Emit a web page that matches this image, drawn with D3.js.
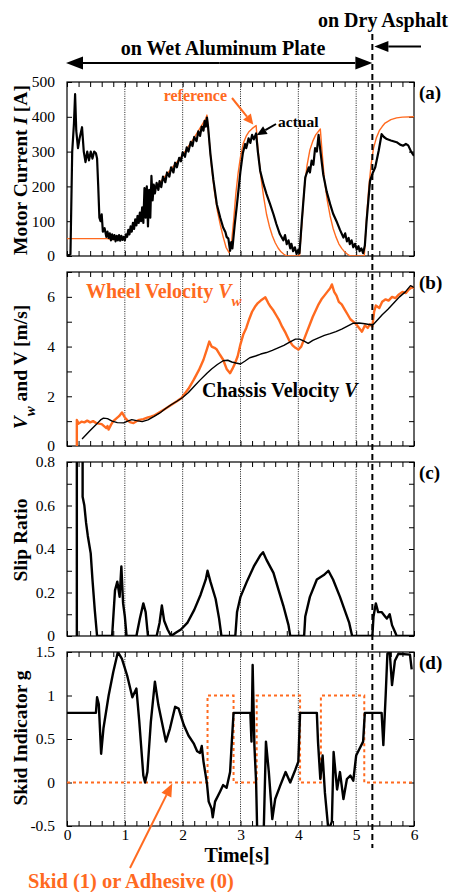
<!DOCTYPE html>
<html>
<head>
<meta charset="utf-8">
<script src="https://cdn.jsdelivr.net/npm/d3@7"></script>
<style>
  body { margin: 0; background: #fff; }
  svg, svg text { font-family: "Liberation Serif", "Times New Roman", "DejaVu Serif", serif; }
</style>
</head>
<body>
<svg id="chart" width="451" height="892" font-family="Liberation Serif, DejaVu Serif, serif"></svg>
<script>
// ---- data -------------------------------------------------------------
const timeMajor = [0, 1, 2, 3, 4, 5, 6];
const gridTimes = [1, 2, 3, 4, 5];
const surfaceChangeTime = 5.28;

const currentTicks = [0, 100, 200, 300, 400, 500];
const currentLabels = ["0", "100", "200", "300", "400", "500"];
const velocityTicks = [0, 1, 2, 3, 4, 5, 6, 7];
const velocityLabels = ["0", "", "2", "", "4", "", "6", ""];
const slipTicks = [0, 0.1, 0.2, 0.3, 0.4, 0.5, 0.6, 0.7, 0.8];
const slipLabels = ["0", "", "0.2", "", "0.4", "", "0.6", "", "0.8"];
const skidTicks = [-0.5, 0, 0.5, 1, 1.5];
const skidLabels = ["-0.5", "0", "0.5", "1", "1.5"];

// (a) motor current [A]: reference and measured
const currentReference = [
  [0, 50], [0.7, 50], [0.75, 48], [0.85, 47], [1.0, 50], [1.2, 100], [1.5, 190], [1.8, 250],
  [2.0, 290], [2.2, 340], [2.4, 395], [2.42, 405], [2.46, 330], [2.5, 255], [2.55, 185],
  [2.6, 130], [2.65, 90], [2.7, 55], [2.75, 25], [2.8, 10], [2.84, 30], [2.88, 100],
  [2.92, 180], [2.96, 240], [3.0, 285], [3.05, 325], [3.1, 345], [3.15, 358], [3.2, 366],
  [3.27, 375], [3.3, 310], [3.35, 230], [3.4, 170], [3.45, 120], [3.5, 85], [3.55, 58],
  [3.6, 38], [3.65, 23], [3.7, 12], [3.75, 5], [3.8, 0], [4.02, 0], [4.06, 90], [4.1, 190],
  [4.15, 260], [4.2, 305], [4.25, 330], [4.3, 348], [4.38, 365], [4.41, 300], [4.45, 220],
  [4.5, 160], [4.55, 115], [4.6, 80], [4.65, 55], [4.7, 35], [4.75, 22], [4.8, 12],
  [4.85, 5], [4.9, 0], [5.14, 0], [5.18, 110], [5.22, 200], [5.26, 265], [5.3, 310],
  [5.35, 340], [5.4, 360], [5.45, 372], [5.5, 382], [5.6, 392], [5.7, 397], [5.8, 399],
  [6.0, 400]
];
const currentActual = [
  [0, 0], [0.06, 5], [0.09, 300], [0.12, 380], [0.14, 465], [0.16, 360], [0.19, 310],
  [0.22, 340], [0.26, 370], [0.29, 300], [0.32, 270], [0.35, 300], [0.38, 275], [0.41, 300],
  [0.44, 280], [0.47, 300], [0.5, 295], [0.52, 280], [0.54, 200], [0.56, 110], [0.58, 100],
  [0.6, 120], [0.62, 70], [0.65, 80], [0.68, 55], [0.7, 70], [0.72, 52], [0.74, 65],
  [0.76, 45], [0.78, 62], [0.8, 48], [0.82, 60], [0.84, 42], [0.86, 58], [0.88, 45],
  [0.9, 60], [0.92, 44], [0.94, 58], [0.96, 46], [0.98, 55], [1.0, 45], [1.02, 62],
  [1.04, 55], [1.06, 75], [1.08, 62], [1.1, 85], [1.12, 70], [1.14, 95], [1.16, 78],
  [1.18, 105], [1.2, 88], [1.22, 115], [1.24, 95], [1.26, 125], [1.28, 100], [1.3, 140],
  [1.32, 95], [1.34, 195], [1.36, 110], [1.38, 200], [1.4, 85], [1.42, 190], [1.44, 110],
  [1.46, 230], [1.48, 160], [1.5, 205], [1.52, 180], [1.55, 210], [1.58, 190], [1.6, 215],
  [1.63, 198], [1.66, 228], [1.7, 212], [1.73, 240], [1.77, 228], [1.8, 255], [1.84, 240],
  [1.87, 268], [1.9, 255], [1.94, 282], [1.97, 272], [2.0, 298], [2.04, 285], [2.07, 312],
  [2.1, 300], [2.14, 328], [2.17, 316], [2.2, 342], [2.24, 330], [2.27, 358], [2.3, 345],
  [2.33, 372], [2.36, 360], [2.38, 388], [2.4, 372], [2.42, 398], [2.44, 370], [2.48, 293],
  [2.53, 220], [2.59, 149], [2.65, 110], [2.7, 82], [2.74, 68], [2.76, 55], [2.79, 50],
  [2.82, 15], [2.84, 40], [2.86, 22], [2.9, 90], [2.94, 150], [3.0, 245], [3.04, 295],
  [3.08, 322], [3.1, 310], [3.14, 338], [3.17, 325], [3.2, 348], [3.23, 335], [3.27, 352],
  [3.3, 300], [3.34, 245], [3.4, 205], [3.45, 178], [3.51, 150], [3.57, 120], [3.62, 92],
  [3.68, 63], [3.74, 45], [3.77, 60], [3.8, 34], [3.83, 45], [3.86, 22], [3.88, 35],
  [3.91, 14], [3.94, 25], [3.97, 6], [4.0, 18], [4.02, 8], [4.06, 100], [4.12, 226],
  [4.18, 255], [4.2, 240], [4.23, 274], [4.26, 262], [4.29, 310], [4.32, 300], [4.35, 348],
  [4.39, 290], [4.43, 235], [4.49, 185], [4.55, 149], [4.6, 122], [4.66, 100], [4.72, 75],
  [4.78, 53], [4.81, 65], [4.84, 42], [4.87, 52], [4.89, 34], [4.92, 45], [4.95, 25],
  [4.98, 35], [5.01, 19], [5.04, 28], [5.06, 14], [5.09, 22], [5.12, 8], [5.15, 30],
  [5.18, 100], [5.24, 216], [5.29, 240], [5.33, 255], [5.39, 303], [5.44, 350], [5.48, 342],
  [5.53, 336], [5.6, 332], [5.7, 327], [5.76, 320], [5.81, 317], [5.86, 322], [5.9, 318],
  [5.95, 300], [6.0, 288]
];

// (b) wheel velocity Vw and chassis velocity V [m/s]
const wheelVelocity = [
  [0.17, 0], [0.17, 1.05], [0.2, 0.9], [0.25, 0.98], [0.3, 0.95], [0.35, 1.02], [0.4, 0.95],
  [0.45, 1.0], [0.5, 0.93], [0.55, 0.9], [0.6, 0.88], [0.64, 0.8], [0.68, 0.72], [0.7, 0.8],
  [0.72, 0.66], [0.76, 0.85], [0.8, 1.0], [0.85, 1.1], [0.9, 1.2], [0.95, 1.35], [1.0, 1.15],
  [1.04, 1.04], [1.1, 0.95], [1.15, 0.92], [1.2, 1.0], [1.25, 1.05], [1.32, 1.08],
  [1.4, 1.15], [1.45, 1.18], [1.5, 1.22], [1.6, 1.36], [1.7, 1.5], [1.8, 1.65], [1.9, 1.8],
  [1.98, 1.93], [2.1, 2.3], [2.19, 2.66], [2.28, 3.05], [2.36, 3.47], [2.42, 3.9],
  [2.46, 4.2], [2.5, 4.0], [2.55, 3.95], [2.59, 3.88], [2.65, 3.65], [2.7, 3.47], [2.76, 3.1],
  [2.82, 2.93], [2.86, 3.1], [2.9, 3.3], [2.95, 3.6], [3.0, 4.1], [3.05, 4.5], [3.1, 4.75],
  [3.15, 5.1], [3.2, 5.4], [3.25, 5.6], [3.3, 5.75], [3.35, 5.85], [3.43, 5.98], [3.48, 5.75],
  [3.52, 5.6], [3.57, 5.45], [3.62, 5.25], [3.67, 5.05], [3.72, 4.8], [3.78, 4.55],
  [3.84, 4.25], [3.9, 4.05], [3.95, 3.95], [4.0, 3.88], [4.05, 4.0], [4.1, 4.3], [4.15, 4.6],
  [4.2, 4.9], [4.25, 5.2], [4.3, 5.45], [4.35, 5.7], [4.4, 5.9], [4.45, 6.05], [4.5, 6.2],
  [4.55, 6.35], [4.58, 6.5], [4.62, 6.2], [4.66, 6.05], [4.7, 5.8], [4.75, 5.7], [4.8, 5.5],
  [4.85, 5.3], [4.9, 5.1], [4.95, 5.0], [5.0, 4.9], [5.05, 4.75], [5.1, 4.6], [5.15, 4.85],
  [5.2, 4.75], [5.24, 4.9], [5.28, 4.8], [5.31, 5.4], [5.34, 5.65], [5.4, 5.55], [5.45, 5.8],
  [5.51, 5.9], [5.56, 5.85], [5.62, 6.0], [5.68, 5.95], [5.74, 6.1], [5.8, 6.2], [5.86, 6.15],
  [5.91, 6.3], [5.97, 6.4], [6.0, 6.35]
];
const chassisVelocity = [
  [0.26, 0.28], [0.33, 0.45], [0.4, 0.62], [0.5, 0.85], [0.58, 1.05], [0.63, 1.12],
  [0.7, 1.1], [0.78, 1.0], [0.87, 0.94], [0.98, 0.93], [1.05, 1.0], [1.12, 1.06], [1.2, 1.02],
  [1.3, 0.98], [1.4, 1.05], [1.5, 1.18], [1.6, 1.32], [1.7, 1.5], [1.8, 1.66], [1.9, 1.8],
  [2.0, 1.95], [2.1, 2.15], [2.2, 2.4], [2.3, 2.65], [2.42, 2.93], [2.5, 3.1], [2.6, 3.28],
  [2.7, 3.43], [2.78, 3.45], [2.85, 3.38], [2.92, 3.34], [3.0, 3.3], [3.08, 3.42],
  [3.16, 3.55], [3.26, 3.62], [3.35, 3.7], [3.45, 3.76], [3.55, 3.85], [3.65, 3.95],
  [3.75, 4.05], [3.85, 4.18], [3.95, 4.3], [4.02, 4.3], [4.1, 4.22], [4.17, 4.13],
  [4.25, 4.25], [4.35, 4.35], [4.45, 4.45], [4.55, 4.52], [4.65, 4.6], [4.75, 4.7],
  [4.85, 4.82], [4.95, 4.94], [5.05, 4.95], [5.15, 4.92], [5.25, 4.88], [5.3, 4.9],
  [5.38, 5.1], [5.45, 5.28], [5.55, 5.5], [5.65, 5.75], [5.75, 6.0], [5.85, 6.2],
  [5.94, 6.45], [6.0, 6.38]
];

// (c) slip ratio
const slipRatio = [
  [0.17, 0], [0.17, 1.0], [0.27, 1.0], [0.27, 0.64], [0.3, 0.6], [0.33, 0.52], [0.36, 0.46],
  [0.41, 0.38], [0.44, 0.26], [0.48, 0.12], [0.52, 0], [0.78, 0], [0.83, 0.21], [0.87, 0.25],
  [0.91, 0.18], [0.94, 0.32], [0.97, 0.15], [1.0, 0.09], [1.03, 0], [1.2, 0], [1.26, 0.08],
  [1.32, 0.15], [1.36, 0.11], [1.4, 0], [1.55, 0], [1.6, 0.06], [1.64, 0.14], [1.68, 0.07],
  [1.74, 0.03], [1.8, 0], [1.88, 0.015], [1.97, 0.03], [2.08, 0.06], [2.2, 0.12],
  [2.31, 0.19], [2.4, 0.26], [2.43, 0.3], [2.48, 0.25], [2.57, 0.17], [2.63, 0.08],
  [2.67, 0], [2.91, 0], [2.94, 0.11], [3.0, 0.18], [3.11, 0.25], [3.23, 0.32], [3.34, 0.37],
  [3.39, 0.385], [3.45, 0.35], [3.57, 0.29], [3.66, 0.21], [3.74, 0.14], [3.83, 0.05],
  [3.86, 0], [4.1, 0], [4.12, 0.09], [4.2, 0.18], [4.32, 0.26], [4.44, 0.28], [4.52, 0.3],
  [4.6, 0.26], [4.72, 0.18], [4.8, 0.12], [4.88, 0.06], [4.93, 0], [5.28, 0], [5.3, 0.09],
  [5.34, 0.15], [5.38, 0.11], [5.44, 0.11], [5.5, 0.09], [5.53, 0.08], [5.58, 0.1],
  [5.62, 0.05], [5.67, 0.02], [5.7, 0], [6.0, 0]
];

// (d) skid indicator g and skid flag (1 = skid, 0 = adhesive)
const skidIndicator = [
  [0, 0.8], [0.5, 0.8], [0.52, 0.98], [0.55, 0.9], [0.59, 0.33], [0.63, 0.62], [0.72, 1.0],
  [0.8, 1.27], [0.88, 1.5], [0.95, 1.42], [1.04, 1.23], [1.13, 0.98], [1.2, 1.08],
  [1.25, 0.7], [1.32, 0.08], [1.35, 0.0], [1.39, 0.12], [1.45, 0.7], [1.52, 1.16],
  [1.58, 0.89], [1.71, 0.47], [1.78, 0.62], [1.87, 0.87], [1.93, 0.85], [2.02, 0.66],
  [2.1, 0.54], [2.19, 0.45], [2.25, 0.36], [2.3, 0.34], [2.33, 0.42], [2.36, 0.24],
  [2.42, -0.01], [2.45, -0.22], [2.5, -0.3], [2.52, -0.4], [2.56, -0.22], [2.65, -0.1],
  [2.7, -0.03], [2.76, -0.06], [2.82, 0.12], [2.85, 0.47], [2.88, 0.8], [3.17, 0.8],
  [3.19, 0.47], [3.21, 1.35], [3.24, 0.43], [3.27, 0.0], [3.29, -0.6], [3.4, -0.6],
  [3.44, 0.47], [3.49, 0.12], [3.55, -0.42], [3.6, -0.19], [3.69, -0.03], [3.78, 0.12],
  [3.86, 0.0], [3.95, 0.15], [4.0, 0.24], [4.03, 0.8], [4.32, 0.8], [4.34, 0.47],
  [4.38, 0.04], [4.42, 0.31], [4.46, -0.12], [4.52, -0.55], [4.58, -0.45], [4.61, 0.35],
  [4.67, -0.08], [4.72, 0.12], [4.78, -0.19], [4.84, 0.04], [4.9, 0.08], [4.95, 0.02],
  [5.0, 0.31], [5.06, 0.39], [5.12, 0.47], [5.15, 0.8], [5.44, 0.8], [5.47, 0.43],
  [5.51, 1.0], [5.54, 1.48], [5.58, 1.5], [5.62, 1.12], [5.67, 1.4], [5.73, 1.48],
  [5.93, 1.47], [5.96, 1.3]
];
const skidFlagTimes = [0, 2.43, 2.88, 3.28, 4.03, 4.39, 5.14, 6.0];
const skidFlagValues = [0, 1, 0, 1, 0, 1, 0, 0];

// ---- layout -----------------------------------------------------------
const ORANGE = "#ff6a1f";
const FONT = "Liberation Serif, DejaVu Serif, serif";
const svg = d3.select("#chart");
const x = d3.scaleLinear().domain([0, 6]).range([67, 414]);
const panelTops = [82, 272, 462, 652];
const panelH = 174;
const minorTimes = d3.range(0, 31).map(i => i / 5);

function makePanel(i, domain, ticks, labels, isLast) {
  const top = panelTops[i];
  const y = d3.scaleLinear().domain(domain).range([top + panelH, top]);
  const g = svg.append("g");

  svg.append("clipPath").attr("id", "clip" + i)
    .append("rect").attr("x", x(0)).attr("y", top)
    .attr("width", x(6) - x(0)).attr("height", panelH);

  // dotted vertical grid at whole seconds
  g.selectAll("line.grid").data(gridTimes).join("line")
    .attr("x1", d => x(d)).attr("x2", d => x(d))
    .attr("y1", top).attr("y2", top + panelH)
    .attr("stroke", "#000").attr("stroke-width", 0.9)
    .attr("stroke-dasharray", "1,1.3");

  const styleAxis = sel => {
    sel.select(".domain").remove();
    sel.attr("font-family", FONT).attr("font-size", 15.5)
      .selectAll("line").attr("stroke-width", 1);
  };

  g.append("g").attr("transform", `translate(${x(0)},0)`)
    .call(d3.axisLeft(y).tickValues(ticks).tickSizeInner(-5).tickSizeOuter(0)
      .tickPadding(12).tickFormat((d, k) => labels[k]))
    .call(styleAxis);
  g.append("g").attr("transform", `translate(${x(6)},0)`)
    .call(d3.axisRight(y).tickValues(ticks).tickSizeInner(-5).tickSizeOuter(0)
      .tickFormat(""))
    .call(styleAxis);
  g.append("g").attr("transform", `translate(0,${top})`)
    .call(d3.axisTop(x).tickValues(minorTimes).tickSizeInner(-5).tickSizeOuter(0)
      .tickFormat(""))
    .call(styleAxis);
  g.append("g").attr("transform", `translate(0,${top + panelH})`)
    .call(d3.axisBottom(x).tickValues(minorTimes).tickSizeInner(-5).tickSizeOuter(0)
      .tickPadding(3)
      .tickFormat(d => (isLast && Math.abs(d - Math.round(d)) < 1e-6 &&
        timeMajor.includes(Math.round(d))) ? String(Math.round(d)) : ""))
    .call(styleAxis);

  g.append("rect").attr("x", x(0)).attr("y", top)
    .attr("width", x(6) - x(0)).attr("height", panelH)
    .attr("fill", "none").attr("stroke", "#000").attr("stroke-width", 1.2);

  const plot = svg.append("g").attr("clip-path", `url(#clip${i})`);
  return { y, plot, top };
}

function drawLine(panel, data, color, width) {
  const line = d3.line().x(d => x(d[0])).y(d => panel.y(d[1]));
  return panel.plot.append("path").datum(data)
    .attr("d", line).attr("fill", "none")
    .attr("stroke", color).attr("stroke-width", width)
    .attr("stroke-linejoin", "round");
}

function arrow(x1, y1, x2, y2, color, width, headLen, headHalf) {
  const a = Math.atan2(y2 - y1, x2 - x1);
  const bx = x2 - headLen * Math.cos(a), by = y2 - headLen * Math.sin(a);
  svg.append("line").attr("x1", x1).attr("y1", y1).attr("x2", bx).attr("y2", by)
    .attr("stroke", color).attr("stroke-width", width);
  const nx = -Math.sin(a) * headHalf, ny = Math.cos(a) * headHalf;
  svg.append("path")
    .attr("d", `M${x2},${y2}L${bx + nx},${by + ny}L${bx - nx},${by - ny}Z`)
    .attr("fill", color);
}

function label(xp, yp, size, color) {
  return svg.append("text").attr("x", xp).attr("y", yp)
    .attr("font-family", FONT).attr("font-weight", "bold")
    .attr("font-size", size).attr("fill", color || "#000");
}

function yTitle(cx, cy, parts) {
  const t = svg.append("text")
    .attr("transform", `translate(${cx},${cy}) rotate(-90)`)
    .attr("font-family", FONT)
    .attr("text-anchor", "middle").attr("font-weight", "bold").attr("font-size", 19.5);
  parts.forEach(p => {
    const s = t.append("tspan").text(p.text);
    if (p.italic) s.attr("font-style", "italic");
    if (p.sub) s.attr("baseline-shift", "sub").attr("font-size", 15);
  });
}

// ---- panels -----------------------------------------------------------
const pA = makePanel(0, [0, 500], currentTicks, currentLabels, false);
const pB = makePanel(1, [0, 7], velocityTicks, velocityLabels, false);
const pC = makePanel(2, [0, 0.8], slipTicks, slipLabels, false);
const pD = makePanel(3, [-0.5, 1.5], skidTicks, skidLabels, true);

drawLine(pA, currentReference, ORANGE, 1.4);
drawLine(pA, currentActual, "#000", 2.2);

drawLine(pB, wheelVelocity, ORANGE, 2.4);
drawLine(pB, chassisVelocity, "#000", 1.4);

drawLine(pC, slipRatio, "#000", 2.4);

const flagData = skidFlagTimes.map((t, k) => [t, skidFlagValues[k]]);
pD.plot.append("path").datum(flagData)
  .attr("d", d3.line().curve(d3.curveStepAfter).x(d => x(d[0])).y(d => pD.y(d[1])))
  .attr("fill", "none").attr("stroke", ORANGE).attr("stroke-width", 2)
  .attr("stroke-dasharray", "3,3");
drawLine(pD, skidIndicator, "#000", 2.4);

// ---- titles and annotations --------------------------------------------
yTitle(27, 170, [{ text: "Motor Current " }, { text: "I", italic: true }, { text: " [A]" }]);
yTitle(27, 367, [{ text: "V", italic: true }, { text: "w", italic: true, sub: true },
  { text: " and V [m/s]" }]);
yTitle(27, 540, [{ text: "Slip Ratio" }]);
yTitle(27, 738, [{ text: "Skid Indicator g" }]);

label(237, 862, 20).attr("text-anchor", "middle").text("Time[s]");

["(a)", "(b)", "(c)", "(d)"].forEach((s, k) => {
  label(419, panelTops[k] + 17, 19).text(s);
});

// surface boundary
const xs = x(surfaceChangeTime);
svg.append("line").attr("x1", xs).attr("x2", xs).attr("y1", 34).attr("y2", 848)
  .attr("stroke", "#000").attr("stroke-width", 2).attr("stroke-dasharray", "6,4");

label(448, 27, 20).attr("text-anchor", "end").text("on Dry Asphalt");
label(223, 55, 20).attr("text-anchor", "middle").text("on Wet Aluminum Plate");

// double-headed arrow spanning the wet section
arrow((x(0) + xs) / 2, 63, x(0) - 1, 63, "#000", 2.2, 17, 6.5);
arrow((x(0) + xs) / 2, 63, xs, 63, "#000", 2.2, 17, 6.5);
arrow(421, 46.5, xs + 2, 46.5, "#000", 2.2, 14, 5.5);

// (a) annotations
label(227, 101, 16, ORANGE).attr("text-anchor", "end").text("reference");
arrow(232, 98, x(3.22), pA.y(378), ORANGE, 2, 10, 5);
label(278, 127, 15.5).text("actual");
arrow(276, 124, x(3.28), pA.y(347), "#000", 2, 10, 4.5);

// (b) annotations
const wv = label(86, 298, 20, ORANGE);
wv.append("tspan").text("Wheel Velocity ");
wv.append("tspan").attr("font-style", "italic").text("V");
wv.append("tspan").attr("font-style", "italic").attr("baseline-shift", "sub")
  .attr("font-size", 15).text("w");
const cv = label(202, 397, 20);
cv.append("tspan").text("Chassis Velocity ");
cv.append("tspan").attr("font-style", "italic").text("V");

// (d) annotation
label(28, 888, 20.5, ORANGE).text("Skid (1) or Adhesive (0)");
arrow(130, 868, x(1.82), pD.y(0) + 1, ORANGE, 2, 13, 5.5);
</script>
</body>
</html>
